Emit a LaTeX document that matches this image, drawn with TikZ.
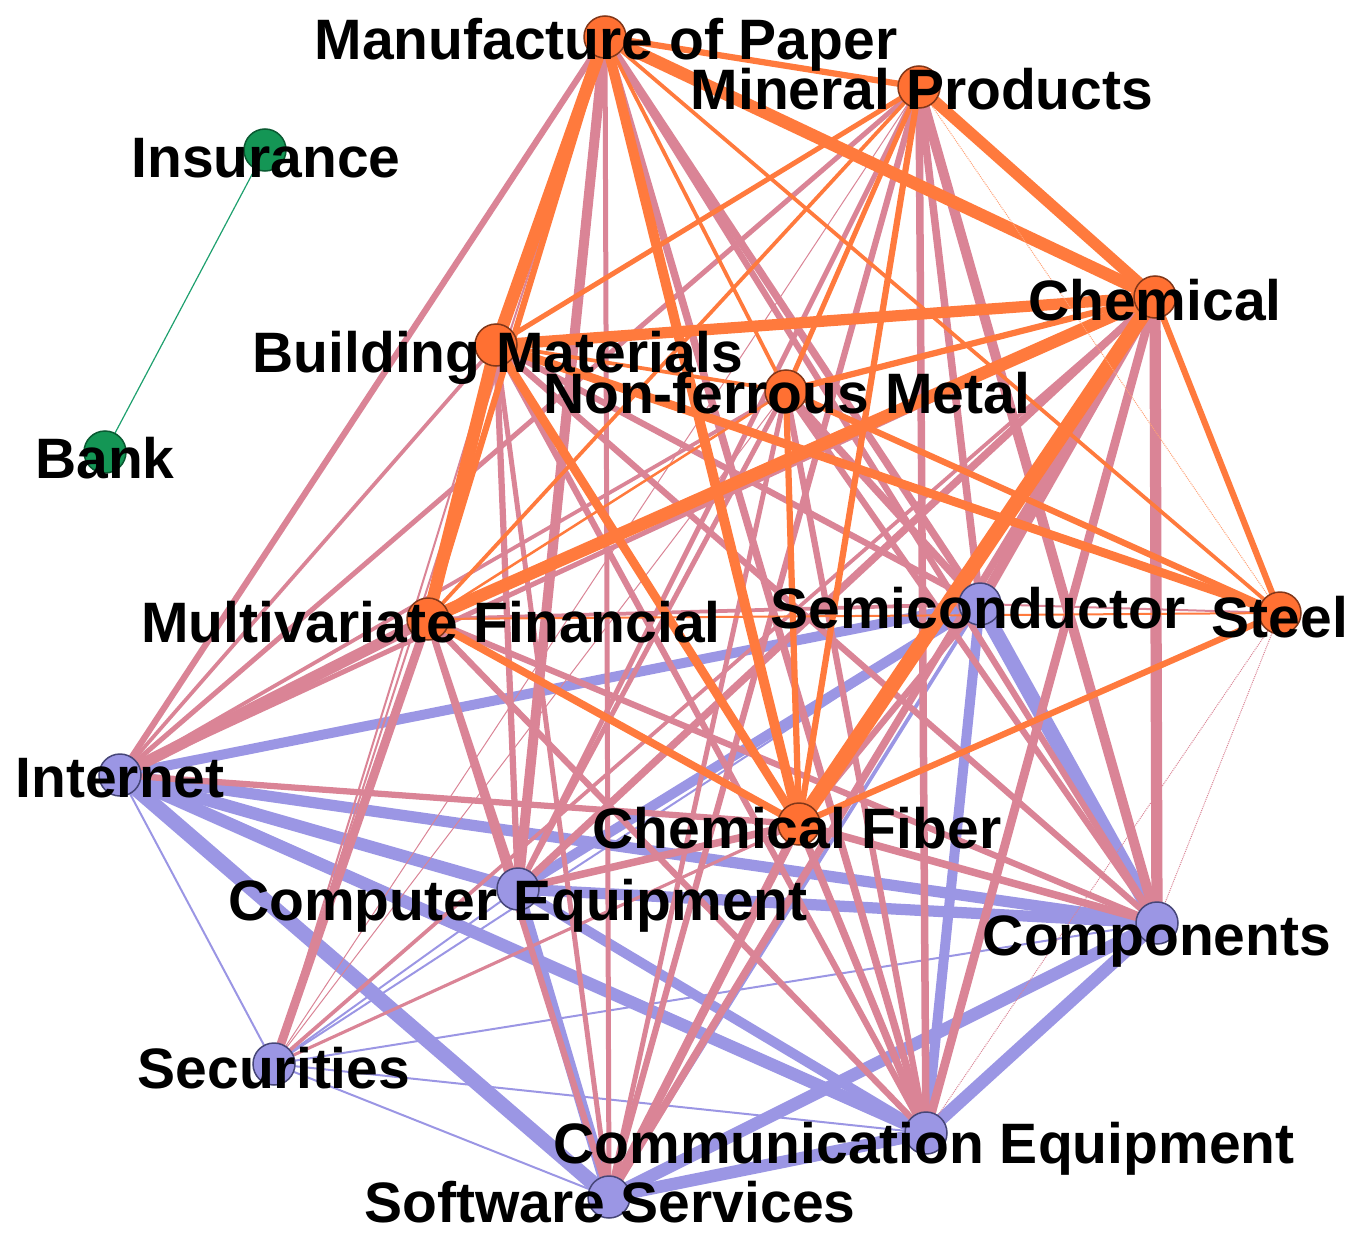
\documentclass[tikz,border=0pt]{standalone}
\usepackage{fontspec}
\setmainfont{Liberation Sans}
\definecolor{orE}{RGB}{255,122,61}
\definecolor{pkE}{RGB}{218,132,150}
\definecolor{puE}{RGB}{155,150,228}
\definecolor{orN}{RGB}{255,112,50}
\definecolor{orB}{RGB}{130,55,25}
\definecolor{puN}{RGB}{155,150,228}
\definecolor{puB}{RGB}{70,70,120}
\definecolor{grN}{RGB}{20,150,85}
\definecolor{grB}{RGB}{10,90,50}
\definecolor{grE}{RGB}{30,160,110}
\pgfdeclarelayer{bg}
\pgfsetlayers{bg,main}
\tikzset{
  vtx/.style={circle, minimum size=42pt, inner sep=0pt, line width=1.5pt},
  ovtx/.style={vtx, fill=orN, draw=orB},
  pvtx/.style={vtx, fill=puN, draw=puB},
  gvtx/.style={vtx, fill=grN, draw=grB},
  lbl/.style={anchor=base, inner sep=0pt, font=\fontsize{57}{60}\selectfont\bfseries, text=black},
}
\begin{document}
\begin{tikzpicture}[x=1pt,y=-1pt]
\useasboundingbox (0,0) rectangle (1367,1252);
% vertices
\node[ovtx] (P)  at (605,37) {};
\node[ovtx] (M)  at (919,87) {};
\node[ovtx] (C)  at (1155,297) {};
\node[ovtx] (B)  at (496,345) {};
\node[ovtx] (N)  at (786,391) {};
\node[ovtx] (F)  at (428,619) {};
\node[ovtx] (S)  at (1280,613) {};
\node[ovtx] (CF) at (799,824) {};
\node[pvtx] (SC) at (980,604) {};
\node[pvtx] (I)  at (120,775) {};
\node[pvtx] (CE) at (518,889) {};
\node[pvtx] (CO) at (1157,923) {};
\node[pvtx] (SE) at (274,1064) {};
\node[pvtx] (CM) at (926,1133) {};
\node[pvtx] (SW) at (609,1197) {};
\node[gvtx] (Ins)  at (265,150) {};
\node[gvtx] (Bank) at (105,452) {};
% edges
\begin{pgfonlayer}{bg}
\draw[grE, line width=1.2pt] (Ins.center) -- (Bank.center);
\foreach \a/\b/\w in {SC/I/8, SC/CE/8, SC/CO/12, SC/CM/8, SC/SW/3, SC/SE/1.6,
  I/CE/10, I/CO/9, I/CM/10, I/SW/12, I/SE/1.6,
  CE/CO/9, CE/CM/8, CE/SW/9, CE/SE/1.6,
  CO/CM/10, CO/SW/10, CO/SE/1.6,
  CM/SW/10, CM/SE/1.6, SW/SE/1.6}
  \draw[puE, line width=1.25*\w pt] (\a.center) -- (\b.center);
\foreach \a/\b/\w in {P/I/5, P/CE/8, P/SC/6, P/CO/5, P/CM/6, P/SW/4, P/SE/1.6,
  M/I/4, M/CE/4, M/SC/6, M/CO/8, M/CM/6, M/SW/5, M/SE/0.8,
  C/I/4, C/CE/6, C/SC/8, C/CO/9, C/CM/7, C/SW/6, C/SE/3,
  B/I/3, B/CE/5, B/SC/5, B/CO/5, B/CM/5, B/SW/4, B/SE/1.6,
  N/I/3, N/CE/4, N/SC/6, N/CO/5, N/CM/5, N/SW/4, N/SE/0.8,
  F/I/9, F/CE/5, F/SC/3, F/CO/5, F/CM/5, F/SW/5, F/SE/7,
  S/SC/1.6,
  CF/I/5, CF/CE/6, CF/SC/5, CF/CO/6, CF/CM/6, CF/SW/7, CF/SE/2.5}
  \draw[pkE, line width=1.25*\w pt] (\a.center) -- (\b.center);
\foreach \a/\b in {S/CO, S/CM}
  \draw[pkE, line width=1pt, densely dotted] (\a.center) -- (\b.center);
\foreach \a/\b/\w in {P/M/5, P/C/10, P/B/10, P/N/3, P/F/5, P/S/3, P/CF/8,
  M/C/9, M/B/4, M/N/4, M/F/3, M/CF/5,
  C/B/9, C/N/5, C/F/10, C/S/5, C/CF/12,
  B/N/3, B/F/10, B/S/7, B/CF/7,
  N/F/2, N/S/5, N/CF/5, F/S/1.6, F/CF/6, S/CF/5}
  \draw[orE, line width=1.25*\w pt] (\a.center) -- (\b.center);
\draw[orE!70, line width=1pt, densely dotted] (M.center) -- (S.center);
\end{pgfonlayer}
% labels
\node[lbl] (Pl)  at (606,60)   {Manufacture of Paper};
\node[lbl] (Ml)  at (922,110)  {Mineral Products};
\node[lbl] (Cl)  at (1155,320) {Chemical};
\node[lbl] (Bl)  at (498,372)  {Building Materials};
\node[lbl] (Nl)  at (787,413)  {Non-ferrous Metal};
\node[lbl] (Fl)  at (431,642)  {Multivariate Financial};
\node[lbl] (Sl)  at (1280,637) {Steel};
\node[lbl] (CFl) at (797,848)  {Chemical Fiber};
\node[lbl] (SCl) at (978,628)  {Semiconductor};
\node[lbl] (Il)  at (120,797)  {Internet};
\node[lbl] (CEl) at (518,920)  {Computer Equipment};
\node[lbl] (COl) at (1157,955) {Components};
\node[lbl] (SEl) at (274,1088) {Securities};
\node[lbl] (CMl) at (924,1163) {Communication Equipment};
\node[lbl] (SWl) at (610,1222) {Software Services};
\node[lbl] (Insl) at (266,178) {Insurance};
\node[lbl] (Bankl) at (105,478) {Bank};
\end{tikzpicture}
\end{document}
